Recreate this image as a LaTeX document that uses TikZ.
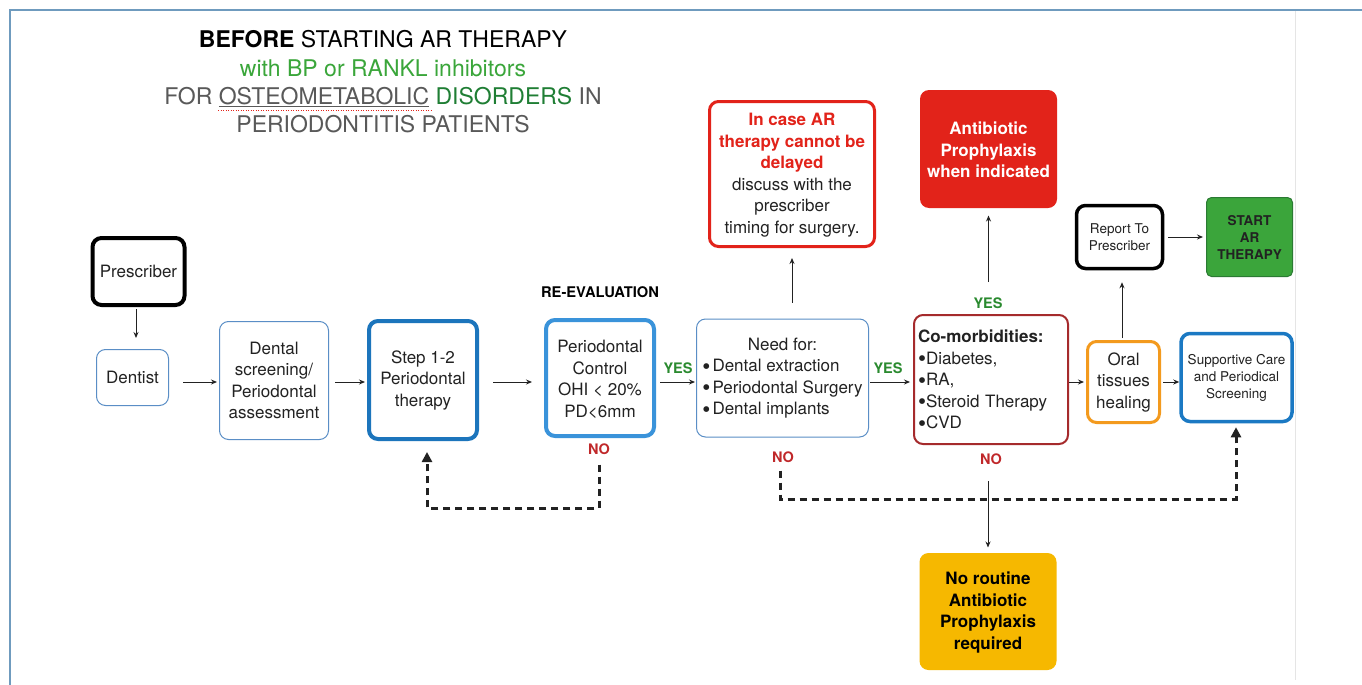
\documentclass[tikz,border=0pt]{standalone}
\usepackage{fontspec}
\setmainfont{TeX Gyre Heros}
\usetikzlibrary{arrows.meta}
\definecolor{frameblue}{HTML}{6F9BBE}
\definecolor{thinblue}{HTML}{5A8EC6}
\definecolor{stepblue}{HTML}{1C75BC}
\definecolor{pcblue}{HTML}{3A93DA}
\definecolor{supblue}{HTML}{1B79C3}
\definecolor{combrown}{HTML}{A52A2C}
\definecolor{oralorange}{HTML}{F39A1E}
\definecolor{alertred}{HTML}{E2231A}
\definecolor{startgreen}{HTML}{3BA53B}
\definecolor{startedge}{HTML}{2B7A33}
\definecolor{amber}{HTML}{F6B800}
\definecolor{yesgreen}{HTML}{2A8A2F}
\definecolor{nored}{HTML}{C0282A}
\definecolor{titlegray}{HTML}{595959}
\definecolor{titlegreen}{HTML}{3AA63A}
\definecolor{darkgreen}{HTML}{1F7E34}
\definecolor{txt}{HTML}{222222}
\newcommand{\redbold}[1]{{\bfseries\color{alertred}#1}}
\newcommand{\bigbul}{\raisebox{-2.6pt}{\fontsize{23}{0}\selectfont\textbullet}}
\begin{document}
\begin{tikzpicture}[x=1pt,y=-1pt,
  box/.style={draw=thinblue, line width=1pt, rounded corners=9pt, align=center, inner sep=2pt, text=txt, font=\fontsize{17}{21.5}\selectfont},
  smalltext/.style={font=\fontsize{13.5}{17}\selectfont},
  lab/.style={font=\bfseries\fontsize{14.5}{17}\selectfont, inner sep=1pt},
  yeslab/.style={lab, text=yesgreen},
  nolab/.style={lab, text=nored},
  titlefont/.style={font=\fontsize{23}{28}\selectfont, anchor=base, inner sep=0pt},
  arr/.style={-{Stealth[length=6pt,width=5pt]}, line width=0.9pt, draw=txt},
  darr/.style={-{Triangle[length=10pt,width=10pt]}, line width=3pt, dash pattern=on 7pt off 5pt, draw=txt}]
\useasboundingbox (0,0) rectangle (1362,685);
\fill[white] (0,0) rectangle (1362,685);
% frame
\draw[frameblue, line width=2pt] (1362,10) -- (9.5,10) -- (9.5,685);
\draw[black!10, line width=1pt] (1295,11) -- (1295,680);

% title
\node[titlefont] (t1) at (383,48) {\bfseries BEFORE\mdseries\ STARTING AR THERAPY};
\node[titlefont, text=titlegreen] (t2) at (383,76) {with BP or RANKL inhibitors};
\node[titlefont, text=titlegray] (t3) at (383,104) {FOR \underline{OSTEOMETABOLIC} {\color{darkgreen}DISORDERS} IN};
\node[titlefont, text=titlegray] (t4) at (383,132) {PERIODONTITIS PATIENTS};
\draw[alertred, line width=0.9pt, dash pattern=on 1pt off 1.5pt] (218,110) -- (431,110);

% boxes
\node[box, draw=black, line width=4pt, minimum width=92pt, minimum height=67pt] (pres) at (138.5,271.5) {Prescriber};
\node[box, minimum width=72pt, minimum height=56pt] (dent) at (132.5,377.5) {Dentist};
\node[box, minimum width=109pt, minimum height=118pt] (scr) at (274,380.5) {Dental\\screening/\\Periodontal\\assessment};
\node[box, draw=stepblue, line width=4pt, minimum width=108pt, minimum height=118pt] (step) at (423,380) {Step 1-2\\Periodontal\\therapy};
\node[box, draw=pcblue, line width=4pt, minimum width=108pt, minimum height=116pt] (pc) at (600,378) {\strut Periodontal\\Control\\OHI < 20\%\\PD<6mm};
\node[box, minimum width=172pt, minimum height=118pt] (need) at (782.5,378) {\begin{tabular}{@{}l@{}}\multicolumn{1}{@{}c@{}}{Need for:}\\\bigbul\hspace{2pt}Dental extraction\\\bigbul\hspace{2pt}Periodontal Surgery\\\bigbul\hspace{2pt}Dental implants\end{tabular}};
\node[box, draw=combrown, line width=2pt, align=left, text width=146pt, inner sep=4pt, minimum height=129pt] (com) at (991,379.5) {\strut{\bfseries Co-morbidities:}\\\bigbul Diabetes,\\\bigbul RA,\\\bigbul Steroid Therapy\\\bigbul CVD};
\node[box, draw=oralorange, line width=3pt, minimum width=72pt, minimum height=81pt] (oral) at (1123.5,382) {Oral\\tissues\\healing};
\node[box, smalltext, draw=supblue, line width=3.5pt, minimum width=111pt, minimum height=88pt] (sup) at (1236.5,377.5) {Supportive Care\\and Periodical\\Screening};
\node[box, smalltext, draw=black, line width=3.5pt, minimum width=86pt, minimum height=63pt] (rep) at (1119.5,237) {Report To\\Prescriber};
\node[box, draw=startedge, fill=startgreen, line width=1pt, font=\bfseries\fontsize{13.5}{17}\selectfont, minimum width=86pt, minimum height=79pt, rounded corners=5pt] (start) at (1249.5,237) {START\\AR\\THERAPY};
\node[box, draw=alertred, line width=3pt, minimum width=165pt, minimum height=145pt] (incase) at (792,174) {\strut\redbold{In case AR}\\\redbold{therapy cannot be}\\\redbold{delayed}\\discuss with the\\prescriber\\timing for surgery.};
\node[box, draw=none, fill=alertred, text=white, font=\bfseries\fontsize{17}{21.5}\selectfont, minimum width=137pt, minimum height=118pt] (anti) at (988.5,149) {\strut Antibiotic\\Prophylaxis\\when indicated};
\node[box, draw=none, fill=amber, text=black, font=\bfseries\fontsize{17}{21.5}\selectfont, minimum width=137pt, minimum height=117pt] (norout) at (988,611.5) {\strut No routine\\Antibiotic\\Prophylaxis\\required};

% labels
\node[font=\bfseries\fontsize{14.7}{17}\selectfont, text=black] (reeval) at (600,292) {RE-EVALUATION};
\node[yeslab] (yes1) at (678,368) {YES};
\node[yeslab] (yes2) at (888,368) {YES};
\node[yeslab] (yes3) at (988,303) {YES};
\node[nolab] (noPC) at (599,449) {NO};
\node[nolab] (noNeed) at (783,457) {NO};
\node[nolab] (noCom) at (991,459) {NO};

% solid arrows
\coordinate (row) at (0,382);
\draw[arr, shorten <=2pt, shorten >=11pt] (pres.south -| 136,0) -- (dent.north -| 136,0);
\draw[arr, shorten <=14pt, shorten >=2pt] (dent.east |- row) -- (scr.west |- row);
\draw[arr, shorten <=6pt, shorten >=2pt] (scr.east |- row) -- (step.west |- row);
\draw[arr, shorten <=14pt, shorten >=12pt] (step.east |- row) -- (pc.west |- row);
\draw[arr, shorten <=4pt, shorten >=1pt] (pc.east |- row) -- (need.west |- row);
\draw[arr, shorten <=1pt, shorten >=3pt] (need.east |- row) -- (com.west |- row);
\draw[arr, shorten <=0pt, shorten >=2pt] (com.east |- row) -- (oral.west |- row);
\draw[arr, shorten <=2pt, shorten >=0pt] (oral.east |- row) -- (sup.west |- row);
\draw[arr, shorten <=4pt, shorten >=3pt] (rep.east) -- (start.west);
\draw[arr, shorten <=16pt, shorten >=10pt] (incase.south |- need.north) -- (incase.south);
\draw[arr, shorten <=32pt, shorten >=7pt] (anti.south |- com.north) -- (anti.south);
\draw[arr, shorten <=2pt, shorten >=12pt] (oral.north -| 1122,0) -- (rep.south -| 1122,0);
\draw[arr, shorten <=36pt, shorten >=5pt] (norout.north |- com.south) -- (norout.north);

% dashed return arrows
\coordinate (pcA) at (599,508);
\coordinate (stA) at (427,508);
\draw[darr] ([yshift=-9pt]noPC.south) -- (pcA) -- (stA) -- ([xshift=4pt,yshift=-11pt]step.south);
\coordinate (nA) at (780,499);
\coordinate (sA) at (1236,499);
\draw[darr] ([xshift=-3pt,yshift=-7pt]noNeed.south) -- (nA) -- (sA) -- ([xshift=-0.5pt,yshift=-4pt]sup.south);
\end{tikzpicture}
\end{document}
